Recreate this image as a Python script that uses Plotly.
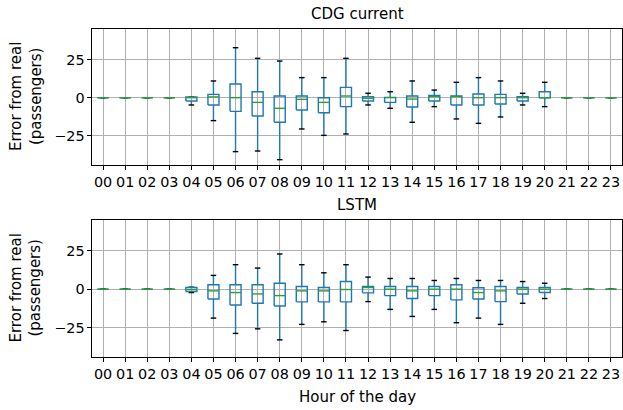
import plotly.graph_objects as go

hours = [f"{h:02d}" for h in range(24)]

# CDG current (top) : per hour q1, median, q3, lower whisker, upper whisker
cdg_q1 = [0, 0, 0, 0, -2.2, -4.8, -9.0, -12.1, -16.2, -8.1, -9.9, -5.9,
          -2.2, -3.1, -6.1, -2.2, -4.8, -4.8, -4.2, -2.2, 0, 0, 0, 0]
cdg_med = [0, 0, 0, 0, 0, 0.5, 0, -3.1, -7.0, -1.1, -3.1, 1.1,
           -0.4, 0, -0.9, 0.7, 0.7, 0, 0, 0, 0, 0, 0, 0]
cdg_q3 = [0, 0, 0, 0, 0.4, 2.2, 9.0, 3.9, 1.1, 1.1, 0, 6.8,
          0.7, 0.2, 1.1, 1.5, 1.1, 2.4, 2.2, 0.7, 3.9, 0, 0, 0]
cdg_lo = [0, 0, 0, 0, -4.8, -15.1, -35.5, -35.1, -40.8, -20.6, -24.8, -23.9,
          -4.8, -7.0, -16.2, -5.9, -14.0, -16.9, -12.7, -4.8, -5.9, 0, 0, 0]
cdg_hi = [0, 0, 0, 0, 0.4, 11.0, 32.9, 25.9, 24.1, 13.2, 13.2, 25.9,
          2.9, 3.9, 11.0, 5.0, 10.1, 13.2, 11.0, 2.9, 10.1, 0, 0, 0]

# LSTM (bottom)
lstm_q1 = [0, 0, 0, 0, -1.5, -6.4, -10.3, -9.2, -11.0, -8.3, -8.3, -8.3,
           -2.4, -4.2, -6.1, -4.2, -7.0, -6.4, -8.1, -3.1, -2.2, 0, 0, 0]
lstm_med = [0, 0, 0, 0, -0.2, -1.1, -2.2, -3.1, -4.2, -1.1, -1.1, -0.2,
            1.1, 0, -1.1, 0, 0, -2.2, -1.1, 0, 0, 0, 0, 0]
lstm_q3 = [0, 0, 0, 0, 1.1, 2.9, 2.9, 2.9, 3.9, 1.8, 1.1, 5.0,
           1.8, 1.8, 1.8, 1.8, 2.9, 0.9, 1.8, 1.1, 1.1, 0, 0, 0]
lstm_lo = [0, 0, 0, 0, -2.2, -18.9, -28.9, -25.9, -33.1, -23.0, -21.3, -27.0,
           -8.1, -13.2, -17.8, -13.2, -21.9, -18.9, -23.0, -9.2, -6.1, 0, 0, 0]
lstm_hi = [0, 0, 0, 0, 1.3, 9.0, 16.0, 13.8, 23.0, 16.0, 10.7, 16.0,
           7.9, 7.0, 7.0, 5.7, 7.0, 5.7, 5.7, 5.0, 3.9, 0, 0, 0]

BLUE = "#1f77b4"
GREEN = "#2ca02c"
LW = 1.4
HALF = 0.25
CAP = 0.125


def add_boxes(fig, q1, med, q3, lo, hi, xa, ya):
    bx, by, wx, wy, cx, cy, mx, my = [], [], [], [], [], [], [], []
    for i in range(len(q1)):
        wx += [i, i, None, i, i, None]
        wy += [q1[i], lo[i], None, q3[i], hi[i], None]
        cx += [i - CAP, i + CAP, None, i - CAP, i + CAP, None]
        cy += [lo[i], lo[i], None, hi[i], hi[i], None]
        bx += [i - HALF, i + HALF, i + HALF, i - HALF, i - HALF, None]
        by += [q1[i], q1[i], q3[i], q3[i], q1[i], None]
        mx += [i - HALF, i + HALF, None]
        my += [med[i], med[i], None]
    common = dict(mode="lines", xaxis=xa, yaxis=ya, showlegend=False, hoverinfo="skip")
    fig.add_trace(go.Scatter(x=wx, y=wy, line=dict(color=BLUE, width=LW), **common))
    fig.add_trace(go.Scatter(x=cx, y=cy, line=dict(color="black", width=LW), **common))
    fig.add_trace(go.Scatter(x=bx, y=by, line=dict(color=BLUE, width=LW), **common))
    fig.add_trace(go.Scatter(x=mx, y=my, line=dict(color=GREEN, width=LW), **common))


fig = go.Figure()
add_boxes(fig, cdg_q1, cdg_med, cdg_q3, cdg_lo, cdg_hi, "x", "y")
add_boxes(fig, lstm_q1, lstm_med, lstm_q3, lstm_lo, lstm_hi, "x2", "y2")

FONT = "DejaVu Sans"
tickfont = dict(family=FONT, size=14.4, color="black")
xax = dict(range=[-0.5, 23.5], tickmode="array", tickvals=list(range(24)), ticktext=hours,
           showgrid=True, gridcolor="#b0b0b0", gridwidth=1.1, zeroline=False,
           showline=True, linecolor="black", linewidth=1.1, mirror=True,
           ticks="outside", ticklen=3.5, tickwidth=1.1, tickcolor="black", tickfont=tickfont)
yax = dict(range=[-44.3, 45.2], tickmode="array", tickvals=[-25, 0, 25],
           showgrid=True, gridcolor="#b0b0b0", gridwidth=1.1, zeroline=False,
           showline=True, linecolor="black", linewidth=1.1, mirror=True,
           ticks="outside", ticklen=3.5, tickwidth=1.1, tickcolor="black", tickfont=tickfont)

top_dom = [0.5854, 1.0]
bot_dom = [0.0, 0.4177]

fig.update_layout(
    width=623, height=410,
    margin=dict(l=92, r=1, t=29, b=53, autoexpand=False),
    paper_bgcolor="white", plot_bgcolor="white",
    font=dict(family=FONT, size=15, color="black"),
    xaxis=dict(xax, domain=[0, 1], anchor="y"),
    yaxis=dict(yax, domain=top_dom, anchor="x"),
    xaxis2=dict(xax, domain=[0, 1], anchor="y2"),
    yaxis2=dict(yax, domain=bot_dom, anchor="x2"),
)

ann_font = dict(family=FONT, size=15, color="black")
annotations = [
    dict(text="CDG current", x=0.5, y=top_dom[1], xref="paper", yref="paper",
         xanchor="center", yanchor="bottom", yshift=4, showarrow=False, font=ann_font),
    dict(text="LSTM", x=0.5, y=bot_dom[1], xref="paper", yref="paper",
         xanchor="center", yanchor="bottom", yshift=4, showarrow=False, font=ann_font),
    dict(text="Hour of the day", x=0.5, y=0, xref="paper", yref="paper",
         xanchor="center", yanchor="top", yshift=-29, showarrow=False, font=ann_font),
]
for dom in (top_dom, bot_dom):
    annotations.append(dict(text="Error from real<br>(passengers)", x=-0.1245, y=(dom[0] + dom[1]) / 2,
                            xref="paper", yref="paper", xanchor="center", yanchor="middle",
                            textangle=-90, showarrow=False, font=ann_font))
fig.update_layout(annotations=annotations)

fig.write_html("out.html", config={"displayModeBar": False},
               post_script="document.body.style.margin='0';document.body.style.overflow='hidden';")
